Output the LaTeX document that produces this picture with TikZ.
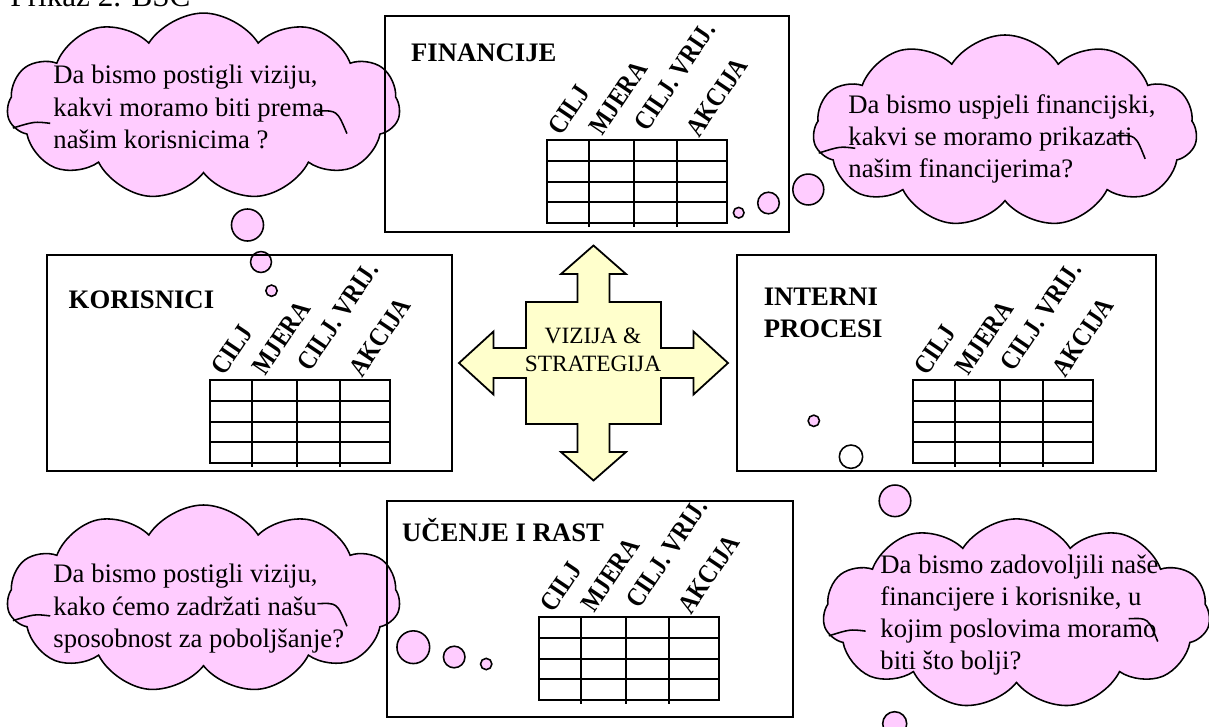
\documentclass[tikz,border=0pt]{standalone}
\usepackage{fontspec}
\setmainfont{Liberation Serif}
\usetikzlibrary{shapes.symbols}
\definecolor{bubblepink}{HTML}{FFCCFF}
\definecolor{visionyellow}{HTML}{FFFFCC}

\begin{document}
\begin{tikzpicture}[x=0.4494pt,y=-0.4494pt,
    thought/.style={cloud, cloud puffs=11, cloud puff arc=115, cloud ignores aspect,
      draw, fill=bubblepink, line width=0.7pt, inner sep=0pt},
    puff/.style={circle, draw, fill=bubblepink, line width=0.7pt, inner sep=0pt},
    question/.style={anchor=north west, align=left, inner sep=0pt, font=\fontsize{12}{14.4}\selectfont},
    panel/.style={draw, line width=0.9pt, minimum height=97.1pt, inner sep=0pt},
    paneltitle/.style={inner sep=0pt, font=\fontsize{12}{14.4}\selectfont\bfseries},
    colhead/.style={anchor=south west, rotate=56, xscale=0.86, inner sep=0pt, font=\fontsize{12}{14}\selectfont\bfseries},
    grid line/.style={line width=0.8pt}]
        \useasboundingbox (0,0) rectangle (1209,726);

        \node[anchor=base west, inner sep=0pt, font=\fontsize{14}{16}\selectfont] (caption) at (10,6) {Prikaz 2. BSC};

        % oblaci s pitanjima
        \node[thought, minimum width=176.6pt, minimum height=84.0pt] (cloudA) at (203.5,106.5) {};
        \node[thought, minimum width=172.6pt, minimum height=86.3pt] (cloudB) at (1005,131) {};
        \node[thought, minimum width=176.6pt, minimum height=84.5pt] (cloudC) at (203.5,599) {};
        \node[thought, minimum width=173.9pt, minimum height=85.5pt] (cloudD) at (1016.5,614) {};

        \foreach \c/\hw/\hh in {cloudA/196.5/93.5, cloudB/192/96, cloudC/196.5/94, cloudD/193.5/95} {
          \begin{scope}[shift={(\c.center)}, xscale=\hw, yscale=\hh, line width=0.7pt]
            \draw (0.58,0.05) .. controls (0.68,0.04) .. (0.73,0.29);
            \draw (-0.97,0.23) .. controls (-0.86,0.16) .. (-0.78,0.18);
          \end{scope}
        }

        \node[puff, minimum size=14.4pt] (tailA1) at (247.5,225) {};
        \node[puff, minimum size=9.4pt] (tailA2) at (261,262) {};
        \node[puff, minimum size=5.1pt] (tailA3) at (271.5,290.7) {};
        \node[puff, minimum size=13.9pt] (tailB1) at (808.3,189.5) {};
        \node[puff, minimum size=9.7pt] (tailB2) at (768.5,203) {};
        \node[puff, minimum size=4.8pt] (tailB3) at (738.7,212.7) {};
        \node[puff, minimum size=14.7pt] (tailC1) at (413.3,647.2) {};
        \node[puff, minimum size=9.7pt] (tailC2) at (454.2,657) {};
        \node[puff, minimum size=5.1pt] (tailC3) at (486.2,664) {};
        \node[puff, minimum size=14.2pt] (tailD1) at (895,500.8) {};
        \node[puff, fill=white, minimum size=10.5pt] (tailD2) at (851,456.7) {};
        \node[puff, minimum size=5.1pt] (tailD3) at (813.8,420.8) {};
        \node[puff, minimum size=10.8pt] (tailD4) at (894.7,723.7) {};

        % vizija i strategija
        \draw[fill=visionyellow, line width=0.8pt, shift={(593.5,363)}]
          (0,-117.5) -- (32.5,-89) -- (16,-89) -- (16,-61) -- (67.5,-61) -- (67.5,-15)
          -- (100,-15) -- (100,-31.5) -- (134.5,0) -- (100,31.5) -- (100,15) -- (67.5,15)
          -- (67.5,61) -- (16,61) -- (16,89) -- (32.5,89) -- (0,117.5) -- (-32.5,89)
          -- (-16,89) -- (-16,61) -- (-67.5,61) -- (-67.5,15) -- (-100,15) -- (-100,31.5)
          -- (-134.5,0) -- (-100,-31.5) -- (-100,-15) -- (-67.5,-15) -- (-67.5,-61)
          -- (-16,-61) -- (-16,-89) -- (-32.5,-89) -- cycle;
        \node[align=center, font=\fontsize{10.5}{12.6}\selectfont] (vision) at (593,350) {VIZIJA \&\\STRATEGIJA};

        % perspektive
        \node[panel, minimum width=181.6pt] (fin) at (587,124) {};
        \node[panel, minimum width=182.0pt] (kor) at (249.5,363) {};
        \node[panel, minimum width=188.3pt] (int) at (946.5,363) {};
        \node[panel, minimum width=182.5pt] (uce) at (590,609) {};

        \node[paneltitle, anchor=base west] (finT) at (410.7,61.7) {FINANCIJE};
        \node[paneltitle, anchor=base west] (korT) at (68.3,308.3) {KORISNICI};
        \node[paneltitle, anchor=north west, align=left] (intT) at (763.3,288) {INTERNI\\PROCESI};
        \node[paneltitle, anchor=base west] (uceT) at (401.7,541.7) {UČENJE I RAST};

        \foreach \nm/\tx/\ty in {fin/547/140, kor/210/380, int/913/380, uce/539/617} {
          \draw[grid line] (\tx,\ty) rectangle ++(180,83);
          \foreach \ry in {21,42,62}
            \draw[grid line] (\tx,\ty+\ry) -- ++(180,0);
          \foreach \cx in {42,87,130}
            \draw[grid line] (\tx+\cx,\ty) -- ++(0,87);
          \foreach \dx/\dy/\lab [count=\i] in {15/-3/CILJ, 56/-3/MJERA, 101/-7/{CILJ. VRIJ.}, 153/-1/AKCIJA}
            \node[colhead] (\nm-h\i) at (\tx+\dx,\ty+\dy) {\lab};
        }

        % pitanja
        \node[question] (questA) at (53,65) {Da bismo postigli viziju,\\kakvi moramo biti prema\\našim korisnicima ?};
        \node[question] (questB) at (848,94) {Da bismo uspjeli financijski,\\kakvi se moramo prikazati\\našim financijerima?};
        \node[question] (questC) at (53,564) {Da bismo postigli viziju,\\kako ćemo zadržati našu\\sposobnost za poboljšanje?};
        \node[question] (questD) at (880,554) {Da bismo zadovoljili naše\\financijere i korisnike, u\\kojim poslovima moramo\\biti što bolji?};
      \end{tikzpicture}
\end{document}
